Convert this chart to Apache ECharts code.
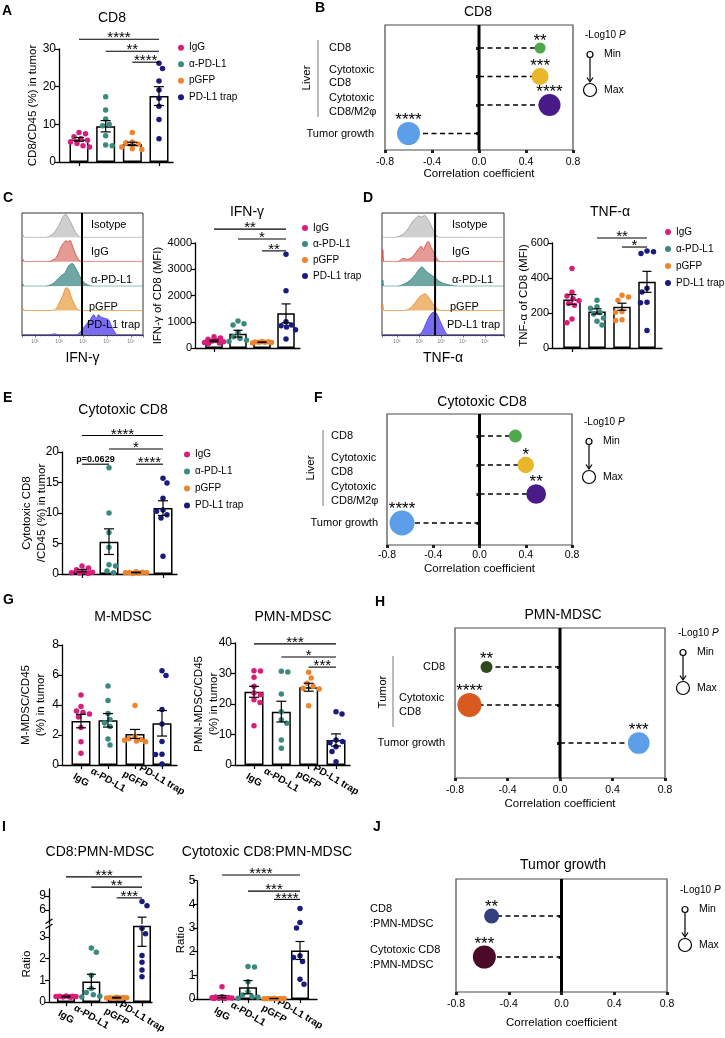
<!DOCTYPE html>
<html>
<head>
<meta charset="utf-8">
<script src="https://cdn.jsdelivr.net/npm/echarts@6.0.0/dist/echarts.min.js"></script>
<style>
html, body { margin:0; padding:0; background:#fff; }
#chart { width:725px; height:1038px; }
</style>
</head>
<body>
<div id="chart"></div>
<script>
const FONT = '"Liberation Sans", Arial, Helvetica, sans-serif';
const groups = ['IgG', 'α-PD-L1', 'pGFP', 'PD-L1 trap'];
const groupColors = ['#d81e7b', '#3b8a80', '#ee842c', '#1b1b7d'];

// ---------- A: CD8/CD45 (%) in tumor ----------
const cd8Mean = [6.0, 9.5, 4.8, 17.5];
const cd8Sem  = [0.5, 1.5, 0.45, 2.5];
const cd8IgG  = [7.8, 7.5, 6.7, 6.2, 5.8, 5.3, 4.9, 4.3, 4.0];
const cd8Anti = [17.3, 13.8, 11.4, 10.0, 9.6, 7.0, 4.5, 4.3];
const cd8GFP  = [7.8, 5.3, 5.1, 4.7, 4.0, 3.5, 3.3];
const cd8Trap = [26.2, 24.8, 21.5, 19.1, 16.9, 14.8, 11.3, 6.2];
const cd8Sig  = [[0, 3, 32.6, '****'], [1, 3, 29.4, '**'], [2, 3, 26.5, '****']];

// ---------- C: IFN-γ of CD8 (MFI) ----------
const ifnMean = [270, 545, 220, 1320];
const ifnSem  = [30, 130, 10, 360];
const ifnIgG  = [430, 380, 330, 300, 270, 240, 210, 190, 170];
const ifnAnti = [1030, 920, 880, 600, 430, 360, 300, 250];
const ifnGFP  = [245, 235, 225, 220, 215, 205, 195];
const ifnTrap = [3570, 2180, 1000, 880, 850, 800, 700, 340];
const ifnSig  = [[0, 3, 4530, '**'], [1, 3, 4150, '*'], [2, 3, 3700, '**']];

// ---------- D: TNF-α of CD8 (MFI) ----------
const tnfMean = [277, 209, 236, 378];
const tnfSem  = [28, 15, 20, 60];
const tnfIgG  = [454, 319, 297, 282, 270, 255, 245, 166, 144];
const tnfAnti = [273, 236, 227, 203, 194, 172, 153, 131];
const tnfGFP  = [301, 292, 273, 209, 205, 162, 157];
const tnfTrap = [555, 550, 540, 342, 320, 262, 258, 100];
const tnfSig  = [[1, 3, 629, '**'], [2, 3, 577, '*']];

// ---------- C/D flow histograms (x = log10 intensity, y = normalised count) ----------
const histLabels = ['Isotype', 'IgG', 'α-PD-L1', 'pGFP', 'PD-L1 trap'];
const histFill = ['#cfcfcf', '#e69a96', '#6ea7a3', '#efb874', '#7a6cf2'];
const histEdge = ['#9a9a9a', '#d2423c', '#2f7f7a', '#e58a2a', '#4c3ce8'];
const ifnHistX = [
  [0.46, 0.5, 0.56, 1.4, 1.6, 1.8, 2.0, 2.1, 2.2, 2.3, 2.4, 2.55, 2.7, 2.85, 3.0, 5.5],
  [0.46, 0.5, 0.56, 1.5, 1.7, 1.9, 2.05, 2.2, 2.3, 2.38, 2.45, 2.55, 2.7, 2.85, 3.0, 5.5],
  [0.46, 0.5, 0.56, 1.4, 1.7, 1.9, 2.1, 2.25, 2.4, 2.55, 2.7, 2.85, 3.0, 3.2, 3.4, 5.5],
  [0.46, 0.5, 0.56, 1.6, 1.85, 2.0, 2.15, 2.3, 2.4, 2.5, 2.65, 2.8, 3.0, 5.5],
  [0.46, 1.0, 1.6, 1.8, 2.0, 2.7, 2.9, 3.1, 3.3, 3.45, 3.55, 3.65, 3.75, 3.9, 4.05, 4.2, 4.35, 4.45, 5.5]
];
const ifnHistY = [
  [0, 0.1, 0, 0, 0.04, 0.2, 0.5, 0.72, 0.92, 0.95, 0.8, 0.5, 0.2, 0.03, 0, 0],
  [0, 0.1, 0, 0, 0.05, 0.2, 0.55, 0.8, 0.88, 0.82, 0.9, 0.7, 0.3, 0.05, 0, 0],
  [0, 0.08, 0, 0, 0.08, 0.25, 0.45, 0.55, 0.85, 0.95, 0.75, 0.45, 0.2, 0.05, 0, 0],
  [0, 0.08, 0, 0, 0.05, 0.3, 0.6, 0.95, 0.9, 0.6, 0.25, 0.03, 0, 0],
  [0, 0, 0, 0.05, 0, 0, 0.15, 0.4, 0.65, 0.85, 0.7, 0.85, 0.75, 0.7, 0.65, 0.35, 0.08, 0, 0]
];
const ifnGate = 2.96;
const tnfHistX = [
  [0.32, 0.9, 1.1, 1.3, 1.5, 1.7, 1.85, 2.0, 2.1, 2.25, 2.4, 2.55, 2.7, 2.85, 3.0, 5.86],
  [0.32, 0.36, 0.42, 1.0, 1.2, 1.3, 1.45, 1.55, 1.75, 1.95, 2.1, 2.2, 2.3, 2.42, 2.55, 2.7, 2.85, 3.0, 5.86],
  [0.32, 0.36, 0.42, 1.0, 1.3, 1.6, 1.85, 2.0, 2.14, 2.3, 2.5, 2.7, 2.9, 3.1, 3.4, 3.8, 5.86],
  [0.32, 0.36, 0.42, 1.3, 1.6, 1.8, 2.0, 2.15, 2.27, 2.4, 2.55, 2.7, 2.85, 3.0, 5.86],
  [0.32, 1.8, 2.0, 2.15, 2.3, 2.45, 2.6, 2.7, 2.8, 2.95, 3.1, 3.2, 3.35, 5.86]
];
const tnfHistY = [
  [0, 0, 0.05, 0.15, 0.35, 0.65, 0.8, 0.9, 0.85, 0.92, 0.75, 0.5, 0.2, 0.03, 0, 0],
  [0, 0.5, 0, 0, 0.1, 0.15, 0.1, 0.12, 0.25, 0.5, 0.65, 0.5, 0.7, 0.85, 0.6, 0.35, 0.08, 0, 0],
  [0, 0.25, 0, 0, 0.08, 0.25, 0.5, 0.7, 0.8, 0.65, 0.5, 0.38, 0.22, 0.12, 0.05, 0, 0],
  [0, 0.25, 0, 0, 0.1, 0.3, 0.55, 0.65, 0.7, 0.6, 0.4, 0.2, 0.06, 0, 0],
  [0, 0, 0.02, 0.15, 0.45, 0.75, 0.93, 0.95, 0.9, 0.6, 0.3, 0.12, 0, 0]
];
const tnfGate = 2.73;

// ---------- E: Cytotoxic CD8/CD45 (%) ----------
const ctxMean = [0.55, 5.3, 0.25, 10.8];
const ctxSem  = [0.2, 2.1, 0.05, 1.2];
const ctxIgG  = [1.3, 1.0, 0.7, 0.45, 0.3, 0.2, 0.15, 0.1];
const ctxAnti = [17.4, 10.0, 6.8, 4.4, 1.5, 1.3, 0.5, 0.2];
const ctxGFP  = [0.35, 0.3, 0.25, 0.2, 0.2, 0.15, 0.1];
const ctxTrap = [15.7, 14.9, 12.4, 10.5, 10.3, 9.7, 9.2, 2.9];
const ctxSig  = [[0, 3, 22.7, '****'], [1, 3, 20.5, '*'], [0, 1, 18.0, 'p=0.0629'], [2, 3, 18.0, '****']];

// ---------- G: M-MDSC and PMN-MDSC ----------
const mMean = [2.93, 2.98, 2.07, 2.78];
const mSem  = [0.45, 0.45, 0.3, 0.85];
const mIgG  = [4.67, 3.9, 3.6, 3.5, 3.4, 3.2, 2.5, 1.55, 0.78];
const mAnti = [5.27, 4.3, 3.44, 3.04, 2.8, 2.56, 1.73, 1.33];
const mGFP  = [3.96, 1.9, 1.75, 1.7, 1.65, 1.6, 1.55];
const mTrap = [6.29, 5.96, 3.7, 2.73, 1.56, 0.71, 0.7, 0.07];
const pmnMean = [24.0, 17.5, 25.5, 8.2];
const pmnSem  = [1.8, 3.4, 1.3, 2.0];
const pmnIgG  = [30.9, 30.8, 28.8, 25.8, 23.6, 23.0, 21.4, 20.5, 12.9];
const pmnAnti = [30.7, 30.5, 23.3, 17.5, 14.8, 13.7, 8.2, 5.5];
const pmnGFP  = [30.4, 28.5, 26.8, 25.8, 25.2, 24.9, 19.4];
const pmnTrap = [17.5, 16.7, 8.2, 7.7, 7.3, 6.0, 4.4, 1.1];
const pmnSig  = [[0, 3, 39.7, '***'], [1, 3, 35.4, '*'], [2, 3, 32.1, '***']];

// ---------- I: ratios ----------
const r1Mean = [0.25, 0.95, 0.2, 3.52];
const r1Sem  = [0.02, 0.33, 0.02, 0.95];
const r1IgG  = [0.28, 0.27, 0.26, 0.25, 0.25, 0.24, 0.23, 0.22];
const r1Anti = [2.49, 2.3, 1.24, 0.62, 0.44, 0.34, 0.26, 0.23];
const r1GFP  = [0.22, 0.21, 0.2, 0.2, 0.19, 0.18, 0.17];
const r1Trap = [7.8, 6.9, 3.4, 3.15, 2.15, 1.84, 1.48, 1.17];
const r1Sig  = [[0, 3, 13.1, '***'], [1, 3, 10.9, '**'], [2, 3, 8.6, '***']];
const r2Mean = [0.1, 0.5, 0.02, 2.05];
const r2Sem  = [0.05, 0.28, 0.005, 0.38];
const r2IgG  = [0.52, 0.1, 0.08, 0.06, 0.05, 0.04, 0.03, 0.02, 0.02];
const r2Anti = [1.37, 1.35, 0.73, 0.31, 0.17, 0.1, 0.07, 0.03];
const r2GFP  = [0.03, 0.02, 0.02, 0.02, 0.01, 0.01, 0.01];
const r2Trap = [3.83, 3.23, 3.0, 1.83, 1.75, 1.58, 0.83, 0.62];
const r2Sig  = [[0, 3, 5.24, '****'], [1, 3, 4.56, '***'], [2, 3, 4.21, '****']];

// ---------- Correlation bubble panels ----------
const liverRows = ['CD8', 'Cytotoxic\nCD8', 'Cytotoxic\nCD8/M2φ', 'Tumor growth'];
const liverColors = ['#4fa84a', '#e9b82a', '#4a1a88', '#5c9ee8'];
const corrB_r = [0.52, 0.52, 0.60, -0.60];
const corrB_nlp = [2.4, 3.6, 4.6, 4.8];
const corrB_stars = ['**', '***', '****', '****'];
const corrF_r = [0.31, 0.40, 0.49, -0.67];
const corrF_nlp = [1.0, 2.0, 2.9, 4.4];
const corrF_stars = ['', '*', '**', '****'];
const corrH_rows = ['CD8', 'Cytotoxic\nCD8', 'Tumor growth'];
const corrH_colors = ['#2e4a1c', '#d95a1e', '#5c9ee8'];
const corrH_r = [-0.56, -0.69, 0.60];
const corrH_nlp = [2.5, 4.3, 3.95];
const corrH_stars = ['**', '****', '***'];
const corrJ_rows = ['CD8\n:PMN-MDSC', 'Cytotoxic CD8\n:PMN-MDSC'];
const corrJ_colors = ['#34407e', '#4a0a28'];
const corrJ_r = [-0.53, -0.585];
const corrJ_nlp = [2.5, 3.5];
const corrJ_stars = ['**', '***'];

// =================== builders ===================
const opt = {
  animation: false,
  backgroundColor: '#ffffff',
  textStyle: { fontFamily: FONT },
  grid: [], xAxis: [], yAxis: [], series: [], legend: [],
  graphic: { elements: [] }
};
const G = opt.graphic.elements;
const SUP = ['⁰', '¹', '²', '³', '⁴', '⁵', '⁶'];

function addGrid(g) { opt.grid.push(Object.assign({ outerBoundsMode: 'none', containLabel: false }, g)); return opt.grid.length - 1; }
function addAxis(list, a) { list.push(a); return list.length - 1; }
function text(x, y, str, o) {
  o = o || {};
  const al = o.align || 'left', va = o.va || 'middle';
  const st = { text: str, fontFamily: FONT, fontSize: o.size || 11, fontWeight: o.weight || 'normal',
    fill: o.color || '#000', align: al, verticalAlign: va, textAlign: al, textVerticalAlign: va };
  if (o.rich) st.rich = o.rich;
  G.push({ type: 'text', x: x, y: y, z: 100, rotation: o.rot || 0, silent: true, style: st });
}
function seg(x1, y1, x2, y2, o) {
  o = o || {};
  G.push({ type: 'line', z: 100, silent: true, shape: { x1: x1, y1: y1, x2: x2, y2: y2 }, style: { stroke: o.color || '#000', lineWidth: o.w || 1 } });
}

function swarm(vals, ppu, d, maxOff) {
  const order = vals.map((v, i) => i).sort((a, b) => vals[b] - vals[a]);
  const placed = [], off = vals.map(() => 0);
  order.forEach((i, k) => {
    const y = vals[i] * ppu;
    let chosen = null, bestC = 0, bestD = -1;
    for (let s = 0; s <= maxOff && chosen === null; s += 0.5) {
      const cands = s === 0 ? [0] : (k % 2 ? [s, -s] : [-s, s]);
      for (const c of cands) {
        let md = Infinity;
        placed.forEach(q => { md = Math.min(md, Math.hypot(q.x - c, q.y - y)); });
        if (md >= d) { chosen = c; break; }
        if (md > bestD) { bestD = md; bestC = c; }
      }
    }
    off[i] = chosen === null ? bestC : chosen;
    placed.push({ x: off[i], y: y });
  });
  return off;
}

function errRender(ymin, ymax, cap) {
  return function (params, api) {
    const g = api.value(0), m = api.value(1), s = api.value(2);
    const lo = m - s, hi = m + s;
    if (hi < ymin || lo > ymax) return null;
    const t = Math.min(hi, ymax), b = Math.max(lo, ymin);
    const pt = api.coord([g, t]), pb = api.coord([g, b]);
    const st = { stroke: '#000', lineWidth: 1.2 };
    const ch = [{ type: 'line', shape: { x1: pt[0], y1: pt[1], x2: pb[0], y2: pb[1] }, style: st }];
    if (hi <= ymax) ch.push({ type: 'line', shape: { x1: pt[0] - cap / 2, y1: pt[1], x2: pt[0] + cap / 2, y2: pt[1] }, style: st });
    if (lo >= ymin) ch.push({ type: 'line', shape: { x1: pb[0] - cap / 2, y1: pb[1], x2: pb[0] + cap / 2, y2: pb[1] }, style: st });
    return { type: 'group', children: ch };
  };
}

function barPanel(p) {
  const band = (p.c3 - p.c0) / 3;
  const left = p.c0 - band / 2, width = band * 4;
  const off = left - p.axisX;
  const ranges = [{ min: p.ymin, max: p.ymax, interval: p.interval, top: p.topPx, bottom: p.zeroPx, main: true }];
  if (p.split) ranges.push({ min: p.split.min, max: p.split.max, interval: p.split.interval, top: p.split.topPx, bottom: p.split.bottomPx, main: false });
  const idx = [];
  ranges.forEach(rg => {
    const gi = addGrid({ left: left, top: rg.top, width: width, height: rg.bottom - rg.top });
    const xi = addAxis(opt.xAxis, {
      type: 'category', gridIndex: gi, data: groups, show: rg.main,
      axisLine: { show: false },
      axisTick: { show: true, alignWithLabel: true, length: 4, lineStyle: { color: '#000', width: 1.2 } },
      axisLabel: p.xLabels ? { show: true, interval: 0, rotate: -30, align: 'center', verticalAlign: 'middle', margin: 15,
        fontSize: 10, fontWeight: 'bold', color: '#000', fontFamily: FONT } : { show: false },
      splitLine: { show: false }
    });
    const yOpt = {
      type: 'value', gridIndex: gi, min: rg.min, max: rg.max, interval: rg.interval, offset: off,
      splitLine: { show: false },
      axisLine: { show: true, onZero: false, lineStyle: { color: '#000', width: 1.3 } },
      axisTick: { show: true, length: 4, lineStyle: { color: '#000', width: 1.2 } },
      axisLabel: { fontSize: p.tickFont || 12, color: '#000', margin: p.labelMargin || 3, fontFamily: FONT,
        showMinLabel: rg.main, showMaxLabel: rg.main ? !p.split : false, formatter: v => String(v) }
    };
    if (rg.main) Object.assign(yOpt, { name: p.yName, nameLocation: 'middle', nameGap: p.nameGap, nameRotate: 90, nameMoveOverlap: false,
      nameTextStyle: { fontSize: 11.5, color: '#000', lineHeight: 15, fontFamily: FONT } });
    const yi = addAxis(opt.yAxis, yOpt);
    idx.push({ gi: gi, xi: xi, yi: yi, rg: rg });
  });
  // continuous x axis baseline from the y axis to the end
  const bg = addGrid({ left: p.axisX, top: p.topPx, width: p.axisEnd - p.axisX, height: p.zeroPx - p.topPx });
  addAxis(opt.xAxis, { type: 'value', gridIndex: bg, min: 0, max: 1, axisLine: { show: true, onZero: false, lineStyle: { color: '#000', width: 1.3 } },
    axisTick: { show: false }, axisLabel: { show: false }, splitLine: { show: false } });
  addAxis(opt.yAxis, { type: 'value', gridIndex: bg, min: 0, max: 1, show: false });

  idx.forEach(o => {
    const rg = o.rg;
    if (rg.main) opt.series.push({ type: 'bar', xAxisIndex: o.xi, yAxisIndex: o.yi, data: p.mean, barWidth: p.barWidth, silent: true, z: 2,
      itemStyle: { color: '#fff', borderColor: '#000', borderWidth: 1.5 } });
    const ppu = (rg.bottom - rg.top) / (rg.max - rg.min);
    p.points.forEach((arr, g) => {
      const sub = arr.filter(v => rg.main ? (v <= rg.max) : (v > p.ymax));
      if (!sub.length) return;
      const offs = swarm(sub, ppu, p.dot + 0.8, p.barWidth / 2 + 1);
      opt.series.push({ type: 'scatter', name: groups[g], xAxisIndex: o.xi, yAxisIndex: o.yi, symbolSize: p.dot, silent: true, z: 3,
        itemStyle: { color: groupColors[g], opacity: 1 },
        data: sub.map((v, k) => ({ value: [g, v], symbolOffset: [offs[k], 0] })) });
    });
    opt.series.push({ type: 'custom', xAxisIndex: o.xi, yAxisIndex: o.yi, silent: true, z: 4, clip: false,
      data: p.mean.map((m, g) => [g, m, p.sem[g]]), renderItem: errRender(rg.min, rg.max, p.cap) });
  });
  const sIdx = idx[p.split ? 1 : 0];
  if (p.sig) {
    const S = p.sig;
    opt.series.push({ type: 'custom', xAxisIndex: sIdx.xi, yAxisIndex: sIdx.yi, silent: true, z: 5, clip: false,
      data: S.map(s => [s[0], s[2], s[1]]),
      renderItem: function (params, api) {
        const a = api.coord([api.value(0), api.value(1)]);
        const b = api.coord([api.value(2), api.value(1)]);
        const t = S[params.dataIndex][3];
        const isP = t.charAt(0) === 'p';
        return { type: 'group', children: [
          { type: 'line', shape: { x1: a[0], y1: a[1], x2: b[0], y2: b[1] }, style: { stroke: '#000', lineWidth: 1.1 } },
          { type: 'text', x: (a[0] + b[0]) / 2, y: isP ? a[1] - 0.5 : a[1] + 6.5,
            style: { text: t, fontFamily: FONT, fontSize: isP ? 9 : 15, fontWeight: isP ? 'bold' : 'normal', fill: '#000',
              align: 'center', verticalAlign: 'bottom', textAlign: 'center', textVerticalAlign: 'bottom' } }
        ] };
      } });
  }
  if (p.legend) opt.legend.push({ data: groups, orient: 'vertical', left: p.legend[0], top: p.legend[1], itemGap: p.legend[2],
    icon: 'circle', itemWidth: 6, itemHeight: 6, padding: 0, selectedMode: false,
    textStyle: { fontSize: 10, color: '#000', fontFamily: FONT, lineHeight: 12 } });
  text(p.title[0], p.title[1], p.title[2], { align: 'center', size: 14 });
}

function histPanel(p) {
  const rowH = p.height / 5;
  const gF = addGrid({ left: p.left, top: p.top, width: p.width, height: p.height, show: true, borderColor: '#333', borderWidth: 1, backgroundColor: 'rgba(0,0,0,0)' });
  const xF = addAxis(opt.xAxis, { type: 'value', gridIndex: gF, min: p.xmin, max: p.xmax,
    axisLine: { show: true, onZero: false, lineStyle: { color: '#333', width: 1 } },
    axisTick: { show: true, length: 2.5, lineStyle: { color: '#444', width: 0.8 } },
    minorTick: { show: true, splitNumber: 9, length: 1.5, lineStyle: { color: '#666', width: 0.5 } },
    axisLabel: { fontSize: 5, color: '#777', margin: 4, formatter: v => (Math.abs(v - Math.round(v)) < 1e-6 ? '10' + SUP[Math.round(v)] : '') },
    splitLine: { show: false }, minorSplitLine: { show: false },
    name: p.name, nameLocation: 'middle', nameGap: 16, nameMoveOverlap: false,
    nameTextStyle: { fontSize: 14, color: '#000', fontFamily: FONT } });
  const yF = addAxis(opt.yAxis, { type: 'value', gridIndex: gF, min: 0, max: 1, show: false });
  opt.series.push({ type: 'line', xAxisIndex: xF, yAxisIndex: yF, data: [[p.gate, 0], [p.gate, 1]], symbol: 'none', silent: true, z: 10,
    lineStyle: { color: '#000', width: 2 } });
  for (let k = 0; k < 5; k++) {
    const gi = addGrid({ left: p.left, top: p.top + k * rowH, width: p.width, height: rowH });
    const xi = addAxis(opt.xAxis, { type: 'value', gridIndex: gi, min: p.xmin, max: p.xmax, show: false });
    const yi = addAxis(opt.yAxis, { type: 'value', gridIndex: gi, min: 0, max: 1.02, show: false });
    opt.series.push({ type: 'line', xAxisIndex: xi, yAxisIndex: yi, smooth: 0.35, symbol: 'none', silent: true, z: 2,
      data: p.xs[k].map((x, i) => [x, p.ys[k][i]]),
      lineStyle: { color: histEdge[k], width: 0.8 }, areaStyle: { color: histFill[k], opacity: 1 } });
    text(p.labelX[k], p.labelY[k], histLabels[k], { size: 11 });
  }
}

function logLegend(x, y) {
  text(x, y, '-Log10 {i|P}', { size: 10, rich: { i: { fontStyle: 'italic', fontSize: 10, fontFamily: FONT, fill: '#000' } } });
  const cx = x + 5, y1 = y + 19.5, y2 = y + 55;
  G.push({ type: 'circle', z: 100, silent: true, shape: { cx: cx, cy: y1, r: 3 }, style: { fill: '#fff', stroke: '#000', lineWidth: 1.2 } });
  G.push({ type: 'circle', z: 100, silent: true, shape: { cx: cx, cy: y2, r: 6.5 }, style: { fill: '#fff', stroke: '#000', lineWidth: 1.2 } });
  seg(cx, y1 + 3.5, cx, y2 - 8, { w: 1.2 });
  G.push({ type: 'polyline', z: 100, silent: true, shape: { points: [[cx - 3, y2 - 12.5], [cx, y2 - 8], [cx + 3, y2 - 12.5]] }, style: { stroke: '#000', lineWidth: 1.2, fill: null } });
  text(x + 19, y1, 'Min', { size: 10.5 });
  text(x + 19, y2, 'Max', { size: 10.5 });
}

function corrPanel(p) {
  const gF = addGrid({ left: p.left, top: p.top, width: p.width, height: p.height, show: true, borderColor: '#4a4a4a', borderWidth: 1.2, backgroundColor: 'rgba(0,0,0,0)' });
  const xF = addAxis(opt.xAxis, { type: 'value', gridIndex: gF, min: -0.8, max: 0.8, interval: 0.4,
    axisLine: { show: false }, axisTick: { show: true, length: 3, lineStyle: { color: '#222', width: 3 } },
    axisLabel: { fontSize: 10.5, color: '#000', margin: p.labelGap, fontFamily: FONT, formatter: v => (Math.abs(v) < 1e-9 ? 0 : v).toFixed(1) },
    splitLine: { show: false }, name: 'Correlation coefficient', nameLocation: 'middle', nameGap: p.nameGap, nameMoveOverlap: false,
    nameTextStyle: { fontSize: 11.5, color: '#000', fontFamily: FONT } });
  const yF = addAxis(opt.yAxis, { type: 'value', gridIndex: gF, min: 0, max: 1, show: false });
  opt.series.push({ type: 'line', xAxisIndex: xF, yAxisIndex: yF, data: [[0, 0], [0, 1]], symbol: 'none', silent: true, z: 3,
    lineStyle: { color: '#000', width: 3 } });
  const n = p.rows.length;
  const gD = addGrid({ left: p.left, top: p.rowTop - p.rowGap / 2, width: p.width, height: p.rowGap * n });
  const xD = addAxis(opt.xAxis, { type: 'value', gridIndex: gD, min: -0.8, max: 0.8, show: false });
  const yD = addAxis(opt.yAxis, { type: 'category', gridIndex: gD, inverse: true, data: p.rows,
    axisLine: { show: false }, axisTick: { show: true, alignWithLabel: true, length: 3, lineStyle: { color: '#222', width: 3 } },
    splitLine: { show: false },
    axisLabel: { interval: 0, margin: p.margin, fontSize: 11, color: '#000', fontFamily: FONT, lineHeight: p.lh,
      formatter: (v, i) => p.block.indexOf(i) >= 0 ? v.split('\n').map(s => '{b|' + s + '}').join('\n') : v,
      rich: { b: { width: p.blockW, align: 'left', fontSize: 11, lineHeight: p.lh, color: '#000', fontFamily: FONT } } } });
  opt.series.push({ type: 'custom', xAxisIndex: xD, yAxisIndex: yD, silent: true, z: 2,
    data: p.r.map((r, i) => [r, i]),
    renderItem: function (params, api) {
      const a = api.coord([0, api.value(1)]), b = api.coord([api.value(0), api.value(1)]);
      return { type: 'line', shape: { x1: a[0], y1: a[1], x2: b[0], y2: b[1] }, style: { stroke: '#000', lineWidth: 1.3, lineDash: [5, 3.5] } };
    } });
  const lo = Math.min.apply(null, p.nlp), hi = Math.max.apply(null, p.nlp);
  const sz = v => p.sizes[0] + (v - lo) / (hi - lo) * (p.sizes[1] - p.sizes[0]);
  opt.series.push({ type: 'scatter', xAxisIndex: xD, yAxisIndex: yD, silent: true, z: 4,
    symbolSize: val => sz(val[2]),
    label: { show: true, position: 'top', distance: 0, offset: [0, 7], fontSize: 17, color: '#000', fontFamily: FONT },
    data: p.r.map((r, i) => ({ value: [r, i, p.nlp[i]], itemStyle: { color: p.colors[i], opacity: 1 },
      label: p.stars[i] ? { show: true, formatter: p.stars[i] } : { show: false } })) });
  if (p.bracket) {
    seg(p.bracket.x, p.bracket.y1, p.bracket.x, p.bracket.y2, { color: '#777', w: 1 });
    text(p.bracket.tx, p.bracket.ty, p.bracket.text, { align: 'center', size: 11.5, rot: Math.PI / 2 });
  }
  logLegend(p.legend[0], p.legend[1]);
  text(p.title[0], p.title[1], p.title[2], { align: 'center', size: 14 });
}

// =================== panels ===================
// A
barPanel({ title: [112, 18, 'CD8'], axisX: 59, c0: 79, c3: 159, axisEnd: 173, topPx: 49, zeroPx: 162, ymin: 0, ymax: 30, interval: 10,
  mean: cd8Mean, sem: cd8Sem, points: [cd8IgG, cd8Anti, cd8GFP, cd8Trap], sig: cd8Sig, barWidth: 19, cap: 10, dot: 5.5,
  yName: 'CD8/CD45 (%) in tumor', nameGap: 19, tickFont: 12, legend: [178, 41.7, 4.5] });
// B
corrPanel({ title: [478, 12, 'CD8'], left: 385, width: 188, top: 25, height: 125, rows: liverRows, rowTop: 48, rowGap: 28.5,
  margin: 11, blockW: 45, block: [0, 1, 2], lh: 13.5, labelGap: 6.5, nameGap: 18,
  r: corrB_r, nlp: corrB_nlp, stars: corrB_stars, colors: liverColors, sizes: [11, 23],
  bracket: { x: 318, y1: 40, y2: 117, tx: 307, ty: 78, text: 'Liver' }, legend: [585, 35] });
// C
histPanel({ left: 22, top: 213, width: 121, height: 122, xmin: 0.46, xmax: 5.5, gate: ifnGate, name: 'IFN-γ',
  xs: ifnHistX, ys: ifnHistY, labelX: [91, 91, 91, 89, 87], labelY: [225, 252, 280, 307, 325] });
barPanel({ title: [247, 212, 'IFN-γ'], axisX: 195, c0: 214, c3: 286, axisEnd: 300, topPx: 243, zeroPx: 348, ymin: 0, ymax: 4000, interval: 1000,
  mean: ifnMean, sem: ifnSem, points: [ifnIgG, ifnAnti, ifnGFP, ifnTrap], sig: ifnSig, barWidth: 17.5, cap: 9, dot: 5.5,
  yName: 'IFN-γ of CD8 (MFI)', nameGap: 30, tickFont: 11, legend: [302, 222, 4] });
// D
histPanel({ left: 382, top: 213, width: 122, height: 122, xmin: 0.32, xmax: 5.86, gate: tnfGate, name: 'TNF-α',
  xs: tnfHistX, ys: tnfHistY, labelX: [452, 452, 452, 450, 447], labelY: [225, 252, 280, 307, 325] });
barPanel({ title: [610, 212, 'TNF-α'], axisX: 552, c0: 572, c3: 647, axisEnd: 662, topPx: 243, zeroPx: 348, ymin: 0, ymax: 600, interval: 200,
  mean: tnfMean, sem: tnfSem, points: [tnfIgG, tnfAnti, tnfGFP, tnfTrap], sig: tnfSig, barWidth: 17.5, cap: 9, dot: 5.5,
  yName: 'TNF-α of CD8 (MFI)', nameGap: 21, tickFont: 11, legend: [665, 226, 5] });
// E
barPanel({ title: [123, 410, 'Cytotoxic CD8'], axisX: 62, c0: 82, c3: 163, axisEnd: 177, topPx: 452, zeroPx: 574, ymin: 0, ymax: 20, interval: 5,
  mean: ctxMean, sem: ctxSem, points: [ctxIgG, ctxAnti, ctxGFP, ctxTrap], sig: ctxSig, barWidth: 19, cap: 10, dot: 5.5,
  yName: 'Cytotoxic CD8\n/CD45 (%) in tumor', nameGap: 13, tickFont: 12, legend: [184, 448.5, 5] });
// F
corrPanel({ title: [482, 402, 'Cytotoxic CD8'], left: 387, width: 185, top: 414, height: 131, rows: liverRows, rowTop: 436, rowGap: 29,
  margin: 9, blockW: 47, block: [0, 1, 2], lh: 14, labelGap: 5, nameGap: 18,
  r: corrF_r, nlp: corrF_nlp, stars: corrF_stars, colors: liverColors, sizes: [13, 25],
  bracket: { x: 323, y1: 430, y2: 506, tx: 311, ty: 468, text: 'Liver' }, legend: [584, 422] });
// G
barPanel({ title: [123, 617, 'M-MDSC'], axisX: 62, c0: 81, c3: 162, axisEnd: 177, topPx: 645, zeroPx: 765, ymin: 0, ymax: 8, interval: 2,
  mean: mMean, sem: mSem, points: [mIgG, mAnti, mGFP, mTrap], barWidth: 19, cap: 10, dot: 5.5,
  yName: 'M-MDSC/CD45\n(%) in tumor', nameGap: 14, tickFont: 12, xLabels: true });
barPanel({ title: [293, 617, 'PMN-MDSC'], axisX: 235, c0: 254, c3: 336, axisEnd: 350, topPx: 643, zeroPx: 765, ymin: 0, ymax: 40, interval: 10,
  mean: pmnMean, sem: pmnSem, points: [pmnIgG, pmnAnti, pmnGFP, pmnTrap], sig: pmnSig, barWidth: 19, cap: 10, dot: 5.5,
  yName: 'PMN-MDSC/CD45\n(%) in tumor', nameGap: 14, tickFont: 12, xLabels: true });
// H
corrPanel({ title: [563, 615, 'PMN-MDSC'], left: 455, width: 210, top: 628, height: 150, rows: corrH_rows, rowTop: 667, rowGap: 38,
  margin: 10, blockW: 46, block: [1], lh: 14, labelGap: 7, nameGap: 20,
  r: corrH_r, nlp: corrH_nlp, stars: corrH_stars, colors: corrH_colors, sizes: [12, 24],
  bracket: { x: 393, y1: 656, y2: 727, tx: 383, ty: 692, text: 'Tumor' }, legend: [678, 633] });
// I
barPanel({ title: [100, 852, 'CD8:PMN-MDSC'], axisX: 49, c0: 66, c3: 142, axisEnd: 152, topPx: 926.2, zeroPx: 1002, ymin: 0, ymax: 3.5, interval: 1,
  split: { min: 3, max: 10.5, interval: 3, topPx: 889, bottomPx: 924 },
  mean: r1Mean, sem: r1Sem, points: [r1IgG, r1Anti, r1GFP, r1Trap], sig: r1Sig, barWidth: 18, cap: 9, dot: 5.5,
  yName: 'Ratio', nameGap: 15, tickFont: 12, xLabels: true });
seg(45.5, 923.5, 52.5, 919, { w: 1.2 });
seg(45.5, 928.5, 52.5, 924, { w: 1.2 });
barPanel({ title: [267, 852, 'Cytotoxic CD8:PMN-MDSC'], axisX: 197, c0: 222, c3: 300, axisEnd: 317, topPx: 880.7, zeroPx: 999, ymin: 0, ymax: 5, interval: 1,
  mean: r2Mean, sem: r2Sem, points: [r2IgG, r2Anti, r2GFP, r2Trap], sig: r2Sig, barWidth: 18, cap: 9, dot: 5.5,
  yName: 'Ratio', nameGap: 8.5, tickFont: 12, labelMargin: 1.5, xLabels: true });
// J
corrPanel({ title: [563, 865, 'Tumor growth'], left: 456, width: 211, top: 879, height: 113, rows: corrJ_rows, rowTop: 916, rowGap: 41,
  margin: 13, blockW: 73, block: [0, 1], lh: 15, labelGap: 7, nameGap: 25,
  r: corrJ_r, nlp: corrJ_nlp, stars: corrJ_stars, colors: corrJ_colors, sizes: [15, 23], legend: [680, 890] });

// panel letters
[['A', 2, 11], ['B', 315, 8], ['C', 3, 198], ['D', 363, 198], ['E', 3, 398], ['F', 314, 398],
 ['G', 3, 600], ['H', 375, 602], ['I', 2, 827], ['J', 373, 827]].forEach(l => text(l[1], l[2], l[0], { size: 14, weight: 'bold' }));

const chart = echarts.init(document.getElementById('chart'), null, { renderer: 'canvas' });
chart.setOption(opt);
</script>
</body>
</html>
